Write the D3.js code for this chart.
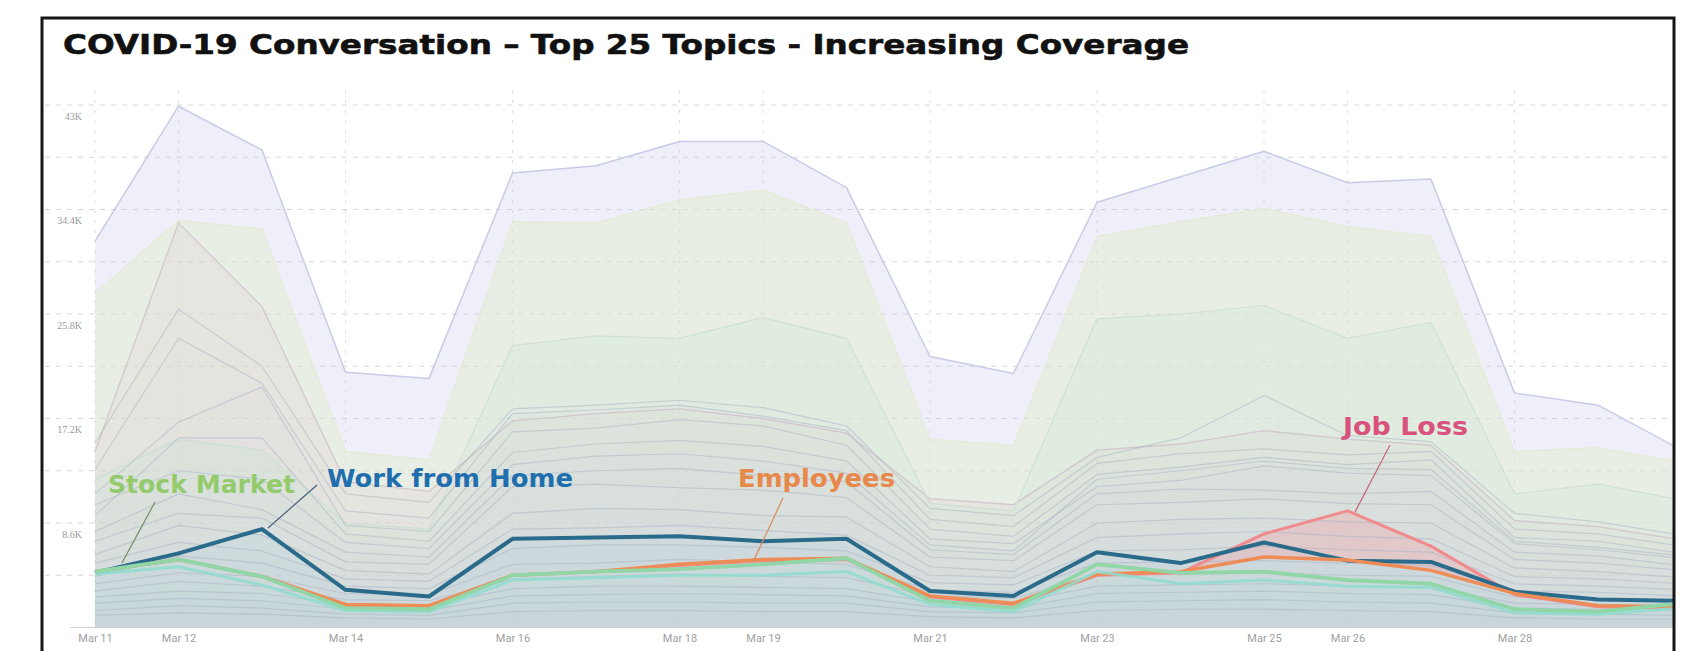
<!DOCTYPE html>
<html><head><meta charset="utf-8">
<script src="https://cdn.jsdelivr.net/npm/d3@7"></script>
<style>
html,body{margin:0;padding:0;background:#fff;}
svg{display:block;}
</style></head>
<body>
<svg id="chart" width="1690" height="651"></svg>
<script>
// ---------------- DATA ----------------
const dates = ["2020-03-11","2020-03-12","2020-03-13","2020-03-14","2020-03-15","2020-03-16","2020-03-17",
  "2020-03-18","2020-03-19","2020-03-20","2020-03-21","2020-03-22","2020-03-23","2020-03-24","2020-03-25",
  "2020-03-26","2020-03-27","2020-03-28","2020-03-29","2020-03-30"];
const tickDates = ["2020-03-11","2020-03-12","2020-03-14","2020-03-16","2020-03-18","2020-03-19",
  "2020-03-21","2020-03-23","2020-03-25","2020-03-26","2020-03-28"];
const yTickValues = [8.6, 17.2, 25.8, 34.4, 43];       // thousands
const gridValues = [4.3, 8.6, 12.9, 17.2, 21.5, 25.8, 30.1, 34.4, 38.7, 43];
const title = "COVID-19 Conversation \u2013 Top 25 Topics - Increasing Coverage";

// mentions per day, in thousands
const topic01 = [31.8,42.9,39.3,21.0,20.5,37.4,38.0,40.0,40.0,36.2,22.3,20.9,35.0,37.1,39.2,36.6,36.9,19.3,18.3,14.6];
const topic02 = [27.5,33.5,32.8,14.5,13.8,33.4,33.3,35.2,36.0,33.3,15.5,15.0,32.2,33.4,34.5,33.0,32.2,14.5,14.8,13.6];
const topic03 = [14.5,33.3,26.4,12.0,11.2,17.0,17.6,18.0,17.2,16.0,10.6,10.1,14.6,15.1,16.2,15.5,15.0,8.8,8.3,7.2];
const topic04 = [12.2,15.5,14.6,8.6,8.1,23.2,24.0,23.8,25.5,23.8,10.2,9.6,25.4,25.8,26.5,23.8,25.1,11.0,11.8,10.5];
const topic05 = [15.2,26.2,21.5,11.0,10.3,18.0,18.3,18.7,18.1,16.6,9.8,9.2,14.0,15.6,19.1,15.8,15.3,9.4,8.7,7.6];
const topic06 = [13.0,23.8,20.1,9.6,9.0,17.6,17.9,18.3,17.4,16.2,8.9,8.3,13.5,14.3,14.7,14.2,14.5,8.1,7.7,6.7];
const topic07 = [11.0,16.9,19.8,8.4,7.9,16.1,16.4,17.1,16.6,15.0,8.1,7.5,12.6,13.2,14.0,13.4,13.8,7.4,7.1,6.1];
const topic08 = [9.2,15.6,15.6,7.7,7.1,14.4,15.1,15.4,14.9,13.7,7.3,6.9,11.6,12.1,13.3,12.7,12.5,6.9,6.4,5.7];
const topic09 = [10.1,12.9,12.2,7.0,6.5,13.4,14.1,14.3,13.7,12.7,6.8,6.3,12.2,12.9,13.7,13.1,13.0,7.1,6.6,5.9];
const topic10 = [7.9,11.0,9.7,6.2,5.8,12.5,12.9,13.1,12.5,12.0,6.4,6.0,11.0,11.4,11.3,11.0,11.2,6.2,5.9,5.1];
const topic11 = [7.1,9.4,9.0,5.4,5.2,11.6,11.8,11.5,11.3,10.7,5.8,5.5,10.1,10.3,10.6,10.2,10.1,5.6,5.3,4.7];
const topic12 = [6.0,8.4,7.6,4.7,4.4,9.4,9.8,9.7,9.2,9.1,5.0,4.6,8.6,8.9,9.0,8.7,8.6,4.9,4.6,4.1];
const topic13 = [5.3,7.0,6.3,4.0,3.8,8.1,8.2,8.4,8.0,7.6,4.3,4.1,7.4,7.7,7.9,7.5,7.3,4.2,4.0,3.6];
const topic14 = [4.2,5.9,5.3,3.4,3.2,6.5,6.8,6.8,6.6,6.3,3.7,3.5,6.3,6.4,6.7,6.4,6.2,3.6,3.4,3.1];
const topic15 = [3.6,4.5,4.2,2.8,2.7,5.2,5.3,5.6,5.4,5.2,3.1,2.9,5.3,5.4,5.5,5.3,5.1,3.0,2.9,2.6];
const topic16 = [3.0,3.8,3.4,2.3,2.2,4.0,4.2,4.4,4.2,4.1,2.6,2.4,4.3,4.4,4.5,4.3,4.2,2.5,2.3,2.1];
const topic17 = [2.5,3.0,2.8,1.9,1.8,3.2,3.4,3.4,3.3,3.2,2.1,2.0,3.4,3.5,3.6,3.4,3.3,2.0,1.9,1.8];
const topic18 = [2.0,2.4,2.2,1.5,1.4,2.6,2.7,2.8,2.7,2.6,1.7,1.6,2.8,2.9,3.0,2.8,2.7,1.6,1.5,1.4];
const topic19 = [1.4,1.8,1.6,1.1,1.0,2.0,2.1,2.1,2.0,2.0,1.3,1.2,2.1,2.2,2.3,2.1,2.0,1.2,1.1,1.0];
const topic20 = [1.0,1.2,1.1,0.8,0.7,1.3,1.4,1.4,1.3,1.3,0.9,0.8,1.4,1.5,1.5,1.4,1.3,0.8,0.7,0.7];
const topic21 = [4.4,5.0,3.5,1.4,1.3,3.9,4.1,4.3,4.3,4.6,1.9,1.3,4.6,3.6,3.9,3.4,3.3,1.2,1.1,1.6];
const stockMarket = [4.6,5.6,4.2,1.6,1.5,4.3,4.6,4.8,5.2,5.7,2.2,1.6,5.2,4.5,4.6,3.9,3.6,1.5,1.3,2.0];
const workFromHome = [4.5,6.1,8.1,3.1,2.55,7.3,7.4,7.5,7.1,7.3,3.0,2.6,6.2,5.3,7.0,5.5,5.4,2.95,2.3,2.2];
const employees = [4.6,5.6,4.2,1.9,1.8,4.3,4.6,5.2,5.6,5.7,2.6,2.0,4.4,4.6,5.8,5.55,4.7,2.8,1.8,1.7];
const jobLoss = [4.6,5.6,4.2,1.8,1.7,4.3,4.6,5.1,5.5,5.6,2.5,1.9,4.3,4.5,7.7,9.6,6.7,2.7,1.7,1.6];

// annotations: label, left edge as day offset from first date, baseline value (K), leader from/to
const annotationLabels = ["Stock Market","Work from Home","Employees","Job Loss"];
const annotationAt = [[0.156,11.07],[2.778,11.56],[7.701,11.56],[14.946,15.84]];
const leaderFrom = [[0.719,10.33],[2.659,11.73],[8.240,10.66],[15.509,15.02]];
const leaderTo = [[0.323,5.31],[2.072,8.19],[7.880,5.39],[15.090,9.51]];

// ---------------- STYLES ----------------
const gray = {fill:"#cbd3e0", fo:0.045, stroke:"#a9b3c6", so:0.5, sw:1.2};
const series = [
  {v:topic01, fill:"#c9cce9", fo:0.32, stroke:"#c3c6e4", so:0.9, sw:1.5},
  {v:topic02, fill:"#e3ecc2", fo:0.38, stroke:"#e3ead0", so:0.8, sw:1.2},
  {v:topic03, fill:"#d9cacf", fo:0.22, stroke:"#cdbfca", so:0.8, sw:1.3},
  {v:topic04, fill:"#cfe7d6", fo:0.30, stroke:"#c8dfd0", so:0.8, sw:1.2},
  {v:topic05, ...gray}, {v:topic06, ...gray}, {v:topic07, ...gray}, {v:topic08, ...gray},
  {v:topic09, ...gray}, {v:topic10, ...gray}, {v:topic11, ...gray}, {v:topic12, ...gray},
  {v:topic13, ...gray}, {v:topic14, ...gray}, {v:topic15, ...gray}, {v:topic16, ...gray},
  {v:topic17, ...gray}, {v:topic18, ...gray}, {v:topic19, ...gray}, {v:topic20, ...gray},
  {v:jobLoss, fill:"#f3b0b3", fo:0.0, stroke:"#f08a8c", so:1, sw:3.0},
  {v:workFromHome, fill:"#a9cbe0", fo:0.16, stroke:"#2a6a8a", so:1, sw:4},
  {v:employees, fill:"#f6c7a8", fo:0.0, stroke:"#ee8c55", so:1, sw:3.4},
  {v:topic21, fill:"#bfe8e0", fo:0.05, stroke:"#92dccf", so:0.9, sw:3},
  {v:stockMarket, fill:"#c6ead0", fo:0.05, stroke:"#90d6a6", so:1, sw:3.8}
];
const annColors = ["#93cb6c","#1f6fae","#e8884a","#d9527c"];
const leaderColors = ["#6f8f62","#44607a","#d9885a","#c8607a"];
const annWidths = [187, 246, 157, 125];

// ---------------- CHART ----------------
const svg = d3.select("#chart");
const parse = d3.timeParse("%Y-%m-%d");
const days = dates.map(parse);
const x = d3.scaleTime().domain([days[0], days[days.length-1]]).range([95, 1681.5]);
const y = d3.scaleLinear().domain([0, 43]).range([627.5, 105]);
const xo = d => x(new Date(days[0].getTime() + d*864e5));

svg.append("defs").append("clipPath").attr("id","clip")
  .append("rect").attr("x",44).attr("y",0).attr("width",1629).attr("height",651);

const g = svg.append("g").attr("clip-path","url(#clip)");

// gridlines
g.append("g").selectAll("line").data(gridValues).join("line")
  .attr("x1",45).attr("x2",1673).attr("y1",d=>y(d)).attr("y2",d=>y(d))
  .attr("stroke","#d6d6d6").attr("stroke-width",1).attr("stroke-dasharray","5,6");
g.append("g").selectAll("line").data(tickDates.map(parse)).join("line")
  .attr("x1",d=>x(d)).attr("x2",d=>x(d)).attr("y1",90).attr("y2",627)
  .attr("stroke","#dcdcdc").attr("stroke-width",1).attr("stroke-dasharray","3,7");

const area = d3.area().x((d,i)=>x(days[i])).y0(y(0)).y1(d=>y(d));
const line = d3.line().x((d,i)=>x(days[i])).y(d=>y(d));

const layers = g.append("g");
series.forEach(s => {
  if (s.fo > 0) layers.append("path").attr("d", area(s.v)).attr("fill", s.fill).attr("fill-opacity", s.fo);
});
// pink band where Job Loss rises above Employees
const band = d3.area().x((d,i)=>x(days[i])).y0((d,i)=>y(Math.min(d, employees[i]))).y1(d=>y(d));
layers.append("path").attr("d", band(jobLoss)).attr("fill","#f2a9ad").attr("fill-opacity",0.4);

series.forEach(s => {
  layers.append("path").attr("d", line(s.v)).attr("fill","none")
    .attr("stroke", s.stroke).attr("stroke-opacity", s.so).attr("stroke-width", s.sw)
    .attr("stroke-linejoin","round");
});

// baseline
svg.append("line").attr("x1",70).attr("x2",1673).attr("y1",y(0)).attr("y2",y(0))
  .attr("stroke","#d0d0d0").attr("stroke-width",1);

// x axis labels
const xAxis = d3.axisBottom(x).tickValues(tickDates.map(parse))
  .tickFormat(d3.timeFormat("%b %-d")).tickSize(0).tickPadding(7);
const gx = svg.append("g").attr("transform",`translate(0,${y(0)})`).call(xAxis);
gx.select(".domain").remove();
gx.selectAll("text").attr("fill","#a0a0a0").attr("font-family","Roboto, sans-serif").attr("font-size",11);

// y axis labels
const yAxis = d3.axisLeft(y).tickValues(yTickValues).tickFormat(d=>d+"K").tickSize(0).tickPadding(2);
const gy = svg.append("g").attr("transform","translate(84,0)").call(yAxis);
gy.select(".domain").remove();
gy.selectAll("text").attr("fill","#9a9a9a").attr("font-family","'Liberation Serif', serif")
  .attr("font-size",10).attr("dy","1.4em");

// annotations
const ann = svg.append("g");
annotationLabels.forEach((t,i)=>{
  ann.append("line")
    .attr("x1", xo(leaderFrom[i][0])).attr("y1", y(leaderFrom[i][1]))
    .attr("x2", xo(leaderTo[i][0])).attr("y2", y(leaderTo[i][1]))
    .attr("stroke", leaderColors[i]).attr("stroke-width",1.2);
  ann.append("text").text(t)
    .attr("x", xo(annotationAt[i][0])).attr("y", y(annotationAt[i][1]))
    .attr("font-family","'DejaVu Sans', sans-serif").attr("font-weight","bold")
    .attr("font-size",25).attr("fill", annColors[i])
    .attr("textLength", annWidths[i]).attr("lengthAdjust","spacingAndGlyphs");
});

// title
svg.append("text").text(title).attr("x",63).attr("y",54)
  .attr("font-family","'DejaVu Sans', sans-serif").attr("font-weight","bold")
  .attr("font-size",27).attr("fill","#111").attr("stroke","#111").attr("stroke-width",0.6)
  .attr("textLength",1126).attr("lengthAdjust","spacingAndGlyphs");

// frame
svg.append("rect").attr("x",42).attr("y",18).attr("width",1632).attr("height",700)
  .attr("fill","none").attr("stroke","#161616").attr("stroke-width",3);
</script>
</body></html>
